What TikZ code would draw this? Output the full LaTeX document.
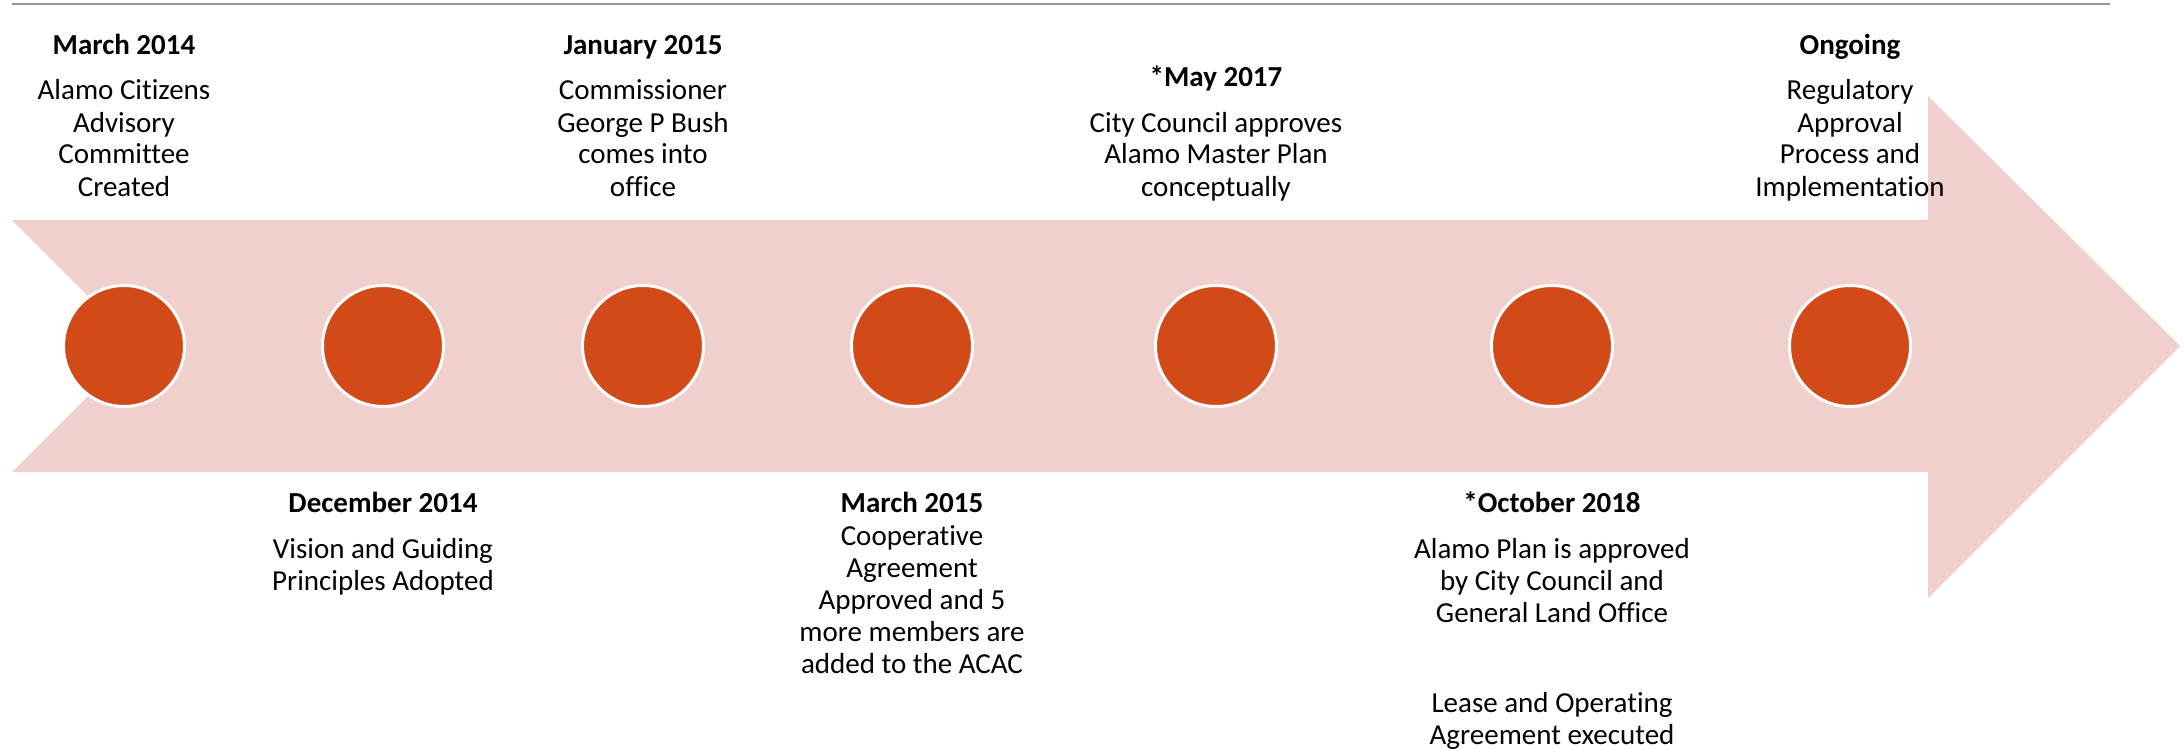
\documentclass[tikz,border=0pt]{standalone}
\usepackage{fontspec}
\setmainfont[Ligatures=NoCommon]{Carlito}
\definecolor{arrowpink}{RGB}{239,208,205}
\definecolor{dotred}{RGB}{210,74,24}
\definecolor{rulegray}{RGB}{150,150,150}
\newcommand\labellines[4]{%
  \foreach \t [count=\i] in {#4} \node[lbl] (#3\i) at (#1,{#2+32*(\i-1)}) {\t};}
\begin{document}
\begin{tikzpicture}[x=1pt,y=-1pt,
  lbl/.style={anchor=base, inner sep=0pt, font=\fontsize{29}{32}\selectfont},
  ttl/.style={anchor=base, inner sep=0pt, font=\fontsize{29}{32}\selectfont\bfseries},
  dot/.style={circle, fill=dotred, draw=white, line width=3pt, minimum size=121pt, inner sep=0pt}]
\useasboundingbox (0,0) rectangle (2184,749);
% top rule
\coordinate (ruleL) at (12,4);
\coordinate (ruleR) at (2110,4);
\draw[rulegray, line width=1.5pt] (ruleL) -- (ruleR);
% big arrow
\fill[arrowpink] (12,220) -- (1928,220) -- (1928,96) -- (2180,346) -- (1928,598)
  -- (1928,472) -- (12,472) -- (138,346) -- cycle;
% dots
\node[dot] (c1) at (124,346) {};
\node[dot] (c2) at (383,346) {};
\node[dot] (c3) at (643,346) {};
\node[dot] (c4) at (912,346) {};
\node[dot] (c5) at (1216,346) {};
\node[dot] (c6) at (1552,346) {};
\node[dot] (c7) at (1850,346) {};
% top labels
\node[ttl] (t1) at (124,55) {March 2014};
\labellines{124}{100}{a}{Alamo Citizens, Advisory, Committee, Created}
\node[ttl] (t3) at (643,55) {January 2015};
\labellines{643}{100}{c}{Commissioner, George P Bush, comes into, office}
\node[ttl] (t5) at (1216,87) {*May 2017};
\labellines{1216}{132}{e}{City Council approves, Alamo Master Plan, conceptually}
\node[ttl] (t7) at (1850,55) {Ongoing};
\labellines{1850}{100}{g}{Regulatory, Approval, Process and, Implementation}
% bottom labels
\node[ttl] (t2) at (383,512) {December 2014};
\labellines{383}{558}{b}{Vision and Guiding, Principles Adopted}
\node[ttl] (t4) at (912,512) {March 2015};
\labellines{912}{545}{d}{Cooperative, Agreement, Approved and 5, more members are, added to the ACAC}
\node[ttl] (t6) at (1552,512) {*October 2018};
\labellines{1552}{558}{f}{Alamo Plan is approved, by City Council and, General Land Office}
\labellines{1552}{712}{h}{Lease and Operating, Agreement executed}
\end{tikzpicture}
\end{document}
